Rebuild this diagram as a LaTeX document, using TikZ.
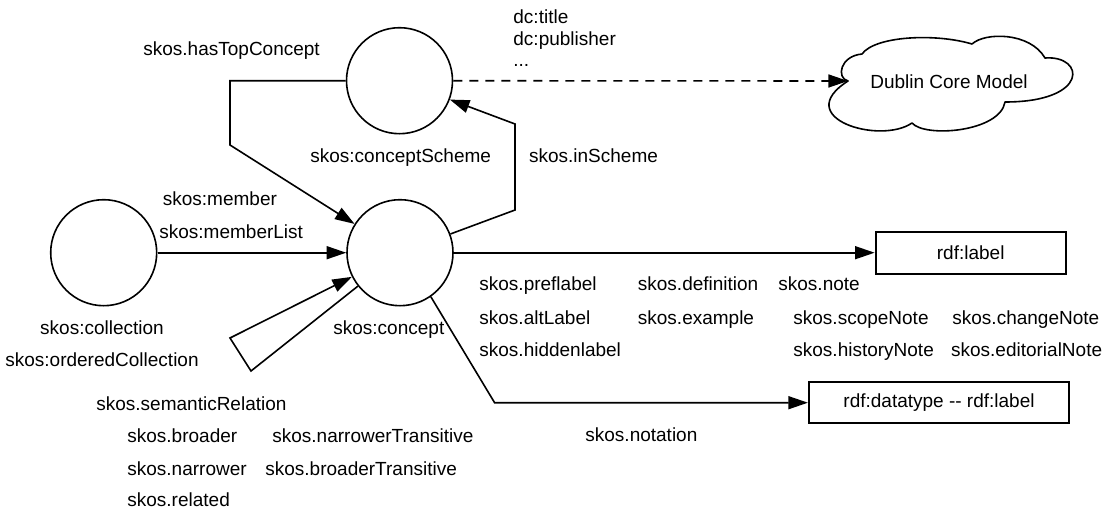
\documentclass[tikz,border=0pt]{standalone}
\usepackage{fontspec}
\setmainfont{Liberation Sans}
\usetikzlibrary{arrows.meta}

\tikzset{
  lbl/.style={inner sep=0pt, font=\fontsize{9.5pt}{11pt}\selectfont},
  lblw/.style={lbl, anchor=base west},
  lblc/.style={lbl, anchor=base},
  res/.style={circle, draw, line width=0.8pt, minimum size=53pt, inner sep=0pt},
  valbox/.style={rectangle, draw, line width=1.1pt, inner sep=0pt,
    font=\fontsize{9.5pt}{11pt}\selectfont},
  link/.style={line width=0.8pt, -{Triangle[length=9.8pt,width=6.5pt]}},
  outline/.style={line width=0.8pt, line join=round},
}

\begin{document}
\begin{tikzpicture}[x=0.5pt,y=-0.5pt]
\useasboundingbox (0,0) rectangle (1109,509);

% resources
\node[res] (scheme) at (399.5,80.7) {};
\node[res] (concept) at (400,252.7) {};
\node[res] (collection) at (103.7,252.7) {};

% value boxes
\node[valbox, minimum width=95pt, minimum height=21pt] (rdflabel) at (970.7,252.7) {rdf:label};
\node[valbox, minimum width=130pt, minimum height=20.5pt] (datatype) at (939,402.7) {rdf:datatype -{}- rdf:label};

% Dublin Core cloud: five puffs drawn as cubic arcs between notches
\coordinate (dcin) at (848,81);
\coordinate (dcB) at (862,54);
\coordinate (dcC) at (972,44);
\coordinate (dcD) at (1045,58);
\coordinate (dcE) at (1005,102);
\coordinate (dcF) at (912,123);
\draw[outline] (dcin)
  .. controls (836,78) and (840,56) .. (dcB)
  .. controls (875,36) and (935,33) .. (dcC)
  .. controls (985,32) and (1030,32) .. (dcD)
  .. controls (1085,55) and (1090,102) .. (dcE)
  .. controls (1000,132) and (925,138) .. (dcF)
  .. controls (880,145) and (790,118) .. (dcin) -- cycle;
\node[lbl] (dc) at (949,81.7) {Dublin Core Model};

% bend points
\coordinate (htcA) at (230,80.7);
\coordinate (htcB) at (230,145);
\coordinate (isA) at (515,210);
\coordinate (isB) at (515,124);
\coordinate (srA) at (251,371);
\coordinate (srB) at (230,338);
\coordinate (ntA) at (494.6,402.7);

% connectors
\draw[link] (scheme) -- (htcA) -- (htcB) -- (concept);
\draw[link] (concept) -- (isA) -- (isB) -- (scheme);
\draw[link] (collection) -- (concept);
\draw[link] (concept) -- (srA) -- (srB) -- (concept);
\draw[link] (concept) -- (rdflabel);
\draw[link] (concept.-55) -- (ntA) -- (datatype);
\draw[link, dash pattern=on 4.5pt off 3.5pt] (scheme) -- (dcin);

% labels
\node[lblw] at (143,55.5) {skos.hasTopConcept};
\node[lblw] at (513,23) {dc:title};
\node[lblw] at (513,45) {dc:publisher};
\node[lblw] at (513,66) {...};
\node[lblw] at (310,162) {skos:conceptScheme};
\node[lblw] at (528.7,162) {skos.inScheme};
\node[lblw] at (162.5,205) {skos:member};
\node[lblw] at (159,238) {skos:memberList};
\node[lblc] at (102,334) {skos:collection};
\node[lblc] at (102,366.7) {skos:orderedCollection};
\node[lblw] at (333,334) {skos:concept};

\node[lblw] at (96,410) {skos.semanticRelation};
\node[lblw] at (127,442) {skos.broader};
\node[lblw] at (272,442) {skos.narrowerTransitive};
\node[lblw] at (127,475) {skos.narrower};
\node[lblw] at (265,475) {skos.broaderTransitive};
\node[lblw] at (127,506.5) {skos.related};

\node[lblw] at (479,290.7) {skos.preflabel};
\node[lblw] at (637.5,290.7) {skos.definition};
\node[lblw] at (778,290.7) {skos.note};
\node[lblw] at (479,324) {skos.altLabel};
\node[lblw] at (637.5,324) {skos.example};
\node[lblw] at (793,324) {skos.scopeNote};
\node[lblw] at (952,324) {skos.changeNote};
\node[lblw] at (479,356) {skos.hiddenlabel};
\node[lblw] at (793,356) {skos.historyNote};
\node[lblw] at (950.7,356) {skos.editorialNote};
\node[lblw] at (585,441.7) {skos.notation};
\end{tikzpicture}
\end{document}
